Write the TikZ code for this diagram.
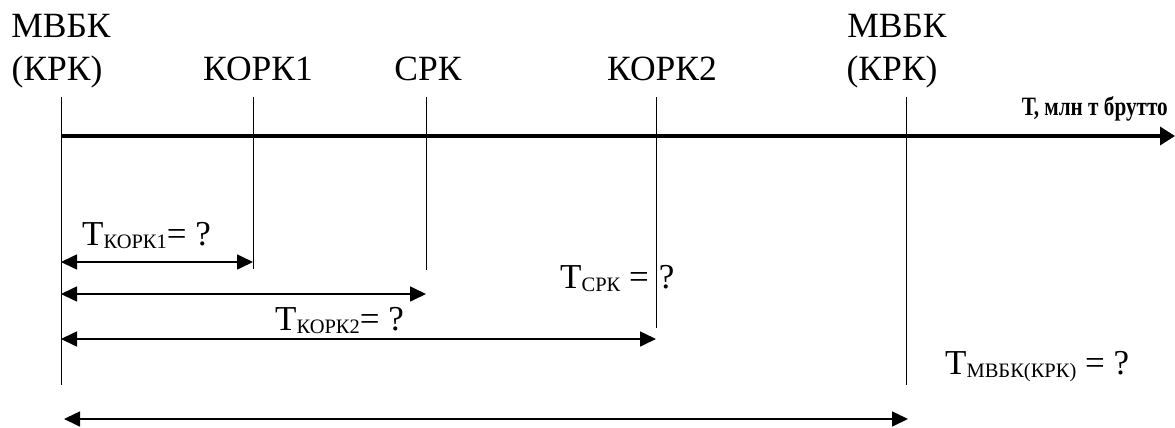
\documentclass[tikz,border=0pt]{standalone}
\usepackage{fontspec}
\setmainfont{Liberation Serif}
\usetikzlibrary{arrows.meta}
\newcommand{\subtxt}[1]{\raisebox{-3pt}{\fontsize{20.5}{21}\selectfont #1}}
\begin{document}
\begin{tikzpicture}[x=1pt,y=-1pt,
  tick/.style={line width=0.9pt},
  dim/.style={line width=1.6pt,{Triangle[length=16pt,width=15pt]}-{Triangle[length=16pt,width=15pt]}},
  axis/.style={line width=3.5pt,-{Triangle[length=15pt,width=18pt]}},
  lbl/.style={anchor=base,inner sep=0pt,font=\fontsize{35.5}{40}\selectfont},
  tlbl/.style={anchor=base west,inner sep=0pt,font=\fontsize{35}{40}\selectfont},
  axlbl/.style={anchor=base east,inner sep=0pt,font=\fontsize{26.5}{30}\selectfont\bfseries}]
\useasboundingbox (0,0) rectangle (1175,428);
% tick lines
\coordinate (t0) at (61,97);  \coordinate (b0) at (61,385);
\coordinate (t1) at (253,97); \coordinate (b1) at (253,269);
\coordinate (t2) at (426,97); \coordinate (b2) at (426,270);
\coordinate (t3) at (656,97); \coordinate (b3) at (656,328);
\coordinate (t4) at (906,97); \coordinate (b4) at (906,385);
\foreach \i in {0,...,4} \draw[tick] (t\i) -- (b\i);
% axis
\coordinate (ax0) at (61,136);
\coordinate (ax1) at (1175,136);
\draw[axis] (ax0) -- (ax1);
\node[axlbl] (axl) at (1168,115) {\scalebox{0.8}[1]{Т, млн т брутто}};
% top labels
\node[lbl] (m0) at (61,38) {МВБК};
\node[lbl] (k0) at (57,81) {(КРК)};
\node[lbl] (l1) at (258,81) {КОРК1};
\node[lbl] (l2) at (428,81) {СРК};
\node[lbl] (l3) at (662,81) {КОРК2};
\node[lbl] (m4) at (897,38) {МВБК};
\node[lbl] (k4) at (892,81) {(КРК)};
% dimension arrows
\coordinate (d1a) at (61,262);  \coordinate (d1b) at (253,262);
\coordinate (d2a) at (61,294);  \coordinate (d2b) at (426,294);
\coordinate (d3a) at (61,339);  \coordinate (d3b) at (656,339);
\coordinate (d4a) at (64,419);  \coordinate (d4b) at (908,419);
\draw[dim] (d1a) -- (d1b);
\draw[dim] (d2a) -- (d2b);
\draw[dim] (d3a) -- (d3b);
\draw[dim] (d4a) -- (d4b);
% value labels
\node[tlbl] (v1) at (82,245) {Т\subtxt{КОРК1}= ?};
\node[tlbl] (v2) at (560,288) {Т\subtxt{СРК} =\hspace{10pt}?};
\node[tlbl] (v3) at (275,330) {Т\subtxt{КОРК2}= ?};
\node[tlbl] (v4) at (945,374) {Т\subtxt{МВБК(КРК)} = ?};
\end{tikzpicture}
\end{document}
